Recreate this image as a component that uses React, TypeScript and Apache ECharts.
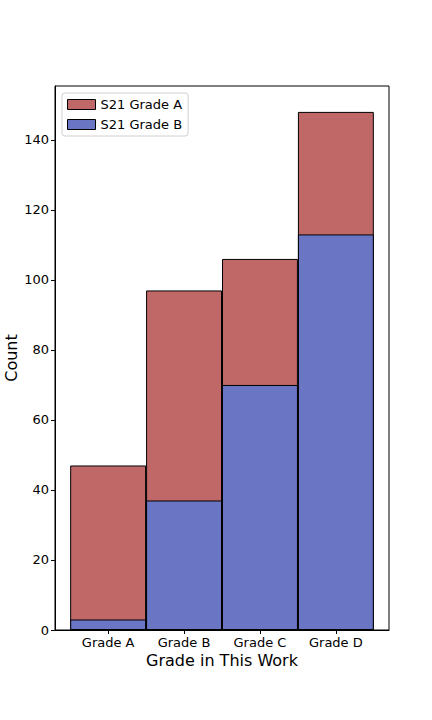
import React, { useEffect, useRef } from "react";
import * as echarts from "echarts";

const categories = ["Grade A", "Grade B", "Grade C", "Grade D"];
const gradeBValues = [3, 37, 70, 113];
const gradeAValues = [44, 60, 36, 35];
const yTicks = [0, 20, 40, 60, 80, 100, 120, 140];
const seriesNames = ["S21 Grade A", "S21 Grade B"];

const FONT = "DejaVu Sans";

export default function App() {
  const ref = useRef<HTMLDivElement>(null);
  useEffect(() => {
    if (!ref.current) return;
    const chart = echarts.init(ref.current, undefined, { renderer: "svg" });
    const gridLeft = 55;
    const gridRight = 43;
    const plotWidth = 432 - gridLeft - gridRight;
    const xMin = -0.7;
    const xMax = 3.7;
    const barW = plotWidth / (xMax - xMin);
    const idx = categories.map((_, i) => i);
    // stacked totals (Grade A sits on top of Grade B)
    const totals = gradeAValues.map((v, i) => v + gradeBValues[i]);
    chart.setOption({
      animation: false,
      textStyle: { fontFamily: FONT },
      grid: {
        left: gridLeft,
        right: gridRight,
        top: 86,
        bottom: 90,
        containLabel: false,
        outerBoundsMode: "none",
        show: true,
        borderColor: "#000",
        borderWidth: 1,
        backgroundColor: "#fff",
      },
      legend: {
        left: 62,
        top: 93,
        orient: "vertical",
        data: seriesNames,
        icon: "rect",
        itemWidth: 28,
        itemHeight: 10,
        itemGap: 5,
        padding: [4, 6, 4, 5],
        backgroundColor: "#fff",
        borderColor: "#d0d0d0",
        borderWidth: 1,
        borderRadius: 3,
        textStyle: { fontFamily: FONT, fontSize: 13, color: "#000", lineHeight: 15 },
        itemStyle: { borderColor: "#000", borderWidth: 1 },
      },
      xAxis: {
        type: "value",
        min: xMin,
        max: xMax,
        name: "Grade in This Work",
        nameLocation: "middle",
        nameGap: 22,
        nameMoveOverlap: false,
        nameTextStyle: { fontFamily: FONT, fontSize: 16, color: "#000" },
        splitLine: { show: false },
        axisLine: { show: true, onZero: false, lineStyle: { color: "#000", width: 1 } },
        axisTick: { show: true, length: 4, lineStyle: { color: "#000" }, customValues: idx },
        axisLabel: {
          show: true,
          customValues: idx,
          margin: 6,
          fontFamily: FONT,
          fontSize: 13,
          color: "#000",
          formatter: (v: number) => categories[Math.round(v)] ?? "",
        },
      },
      yAxis: {
        type: "value",
        min: 0,
        max: 155.4,
        name: "Count",
        nameLocation: "middle",
        nameGap: 36,
        nameMoveOverlap: false,
        nameRotate: 90,
        nameTextStyle: { fontFamily: FONT, fontSize: 16, color: "#000" },
        splitLine: { show: false },
        axisLine: { show: true, onZero: false, lineStyle: { color: "#000", width: 1 } },
        axisTick: { show: true, length: 4, lineStyle: { color: "#000" }, customValues: yTicks },
        axisLabel: {
          show: true,
          customValues: yTicks,
          margin: 6,
          fontFamily: FONT,
          fontSize: 13,
          color: "#000",
        },
      },
      series: [
        {
          name: seriesNames[0],
          type: "bar",
          barWidth: barW,
          barGap: "-100%",
          data: totals.map((v, i) => [i, v]),
          itemStyle: { color: "#c06868", borderColor: "#000", borderWidth: 1 },
          z: 2,
        },
        {
          name: seriesNames[1],
          type: "bar",
          barWidth: barW,
          barGap: "-100%",
          data: gradeBValues.map((v, i) => [i, v]),
          itemStyle: { color: "#6a76c3", borderColor: "#000", borderWidth: 1 },
          z: 3,
        },
      ],
    });
    return () => chart.dispose();
  }, []);
  return (
    <div
      ref={ref}
      style={{ position: "fixed", left: 0, top: 0, width: 432, height: 720, background: "#fff" }}
    />
  );
}
